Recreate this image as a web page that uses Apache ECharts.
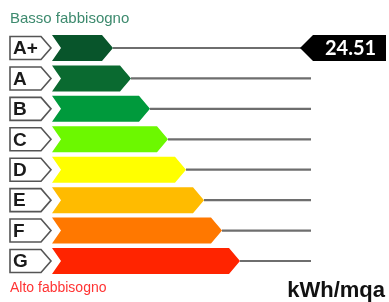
<!DOCTYPE html>
<html>
<head>
<meta charset="utf-8">
<script src="https://cdn.jsdelivr.net/npm/echarts@6/dist/echarts.min.js"></script>
<style>
  html, body { margin: 0; padding: 0; background: #fff; }
  #chart { width: 389px; height: 302px; }
</style>
</head>
<body>
<div id="chart"></div>
<script>
// energy classes, top to bottom
var classes = ['A+', 'A', 'B', 'C', 'D', 'E', 'F', 'G'];
var barLengths = [61, 79, 98, 116, 134, 152, 170, 188];
var barColors = ['#08552b', '#0a6a30', '#009a3c', '#6cf800', '#ffff00', '#ffbb00', '#ff7800', '#ff2400'];
var currentClass = 'A+';
var currentValue = 24.51;
var lineEnd = 259;

var barData = classes.map(function (c, i) { return [i, barLengths[i]]; });

function renderBar(params, api) {
  var i = api.value(0);
  var p0 = api.coord([0, i]);
  var p1 = api.coord([api.value(1), i]);
  var pe = api.coord([lineEnd, i]);
  var cy = p0[1];
  var h = 26;
  var y0 = cy - h / 2, y1 = cy + h / 2;
  var x0 = p0[0], xt = p1[0];
  var tip = 11, notch = 9;
  var bh = 23, by0 = cy - bh / 2, by1 = cy + bh / 2;
  return {
    type: 'group',
    children: [
      { type: 'line', shape: { x1: xt, y1: cy, x2: pe[0], y2: cy },
        style: { stroke: '#6e6e6e', lineWidth: 2.2 } },
      { type: 'polygon',
        shape: { points: [[x0, y0], [xt - tip, y0], [xt, cy], [xt - tip, y1], [x0, y1], [x0 + notch, cy]] },
        style: { fill: barColors[i] } },
      { type: 'polygon',
        shape: { points: [[x0 - 42, by0], [x0 - 11, by0], [x0 - 1, cy], [x0 - 11, by1], [x0 - 42, by1]] },
        style: { fill: '#fff', stroke: '#555', lineWidth: 1.6 } },
      { type: 'text',
        style: { x: x0 - 39, y: cy + 1, text: classes[i], fill: '#1a1a1a',
          font: 'bold 19px "Liberation Sans", Arial, sans-serif', verticalAlign: 'middle' } }
    ]
  };
}

function renderMarker(params, api) {
  var i = api.value(0);
  var pe = api.coord([lineEnd, i]);
  var cy = pe[1];
  var h = 26;
  var xt = pe[0] - 11;
  var xr = 386;
  return {
    type: 'group',
    children: [
      { type: 'polygon',
        shape: { points: [[xt, cy], [xt + 13, cy - h / 2], [xr, cy - h / 2], [xr, cy + h / 2], [xt + 13, cy + h / 2]] },
        style: { fill: '#000' } },
      { type: 'text',
        style: { x: (xt + 13 + xr) / 2 + 1, y: cy + 1, text: api.value(1).toFixed(2), fill: '#fff',
          font: 'bold 20px Lato, sans-serif', align: 'center', verticalAlign: 'middle' } }
    ]
  };
}

var chart = echarts.init(document.getElementById('chart'));
chart.setOption({
  animation: false,
  grid: { left: 52, right: 78, top: 32.8, bottom: 25.8 },
  xAxis: { type: 'value', min: 0, max: lineEnd, show: false },
  yAxis: { type: 'category', data: classes, inverse: true, show: false },
  graphic: [
    { type: 'text', left: 10, top: 11,
      style: { text: 'Basso fabbisogno', fill: '#3d8a6e', font: '15px "Liberation Sans", Arial, sans-serif' } },
    { type: 'text', left: 10, top: 281,
      style: { text: 'Alto fabbisogno', fill: '#ff3333', font: '14px "Liberation Sans", Arial, sans-serif' } },
    { type: 'text', right: 4, top: 280,
      style: { text: 'kWh/mqa', fill: '#111', font: 'bold 22px "Liberation Sans", Arial, sans-serif' } }
  ],
  series: [
    { type: 'custom', renderItem: renderBar, data: barData, clip: false },
    { type: 'custom', renderItem: renderMarker, clip: false,
      data: [[classes.indexOf(currentClass), currentValue]] }
  ]
});
</script>
</body>
</html>
